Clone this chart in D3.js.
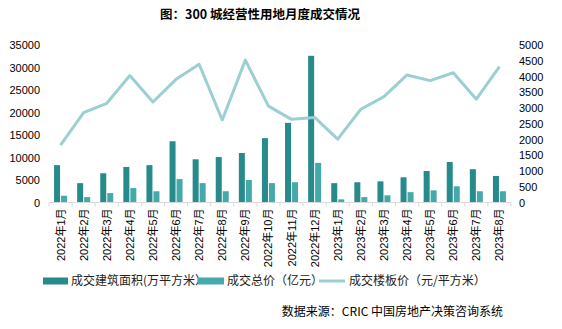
<!DOCTYPE html>
<html>
<head>
<meta charset="utf-8">
<script src="https://cdn.jsdelivr.net/npm/d3@7"></script>
<style>
  body { margin: 0; background: #fff; }
  svg { display: block; font-family: "Liberation Sans", "Noto Sans CJK SC", sans-serif; }
</style>
</head>
<body>
<svg width="562" height="329"></svg>
<script>
// Mois (catégories)
const months = [
  "2022年1月", "2022年2月", "2022年3月", "2022年4月", "2022年5月", "2022年6月",
  "2022年7月", "2022年8月", "2022年9月", "2022年10月", "2022年11月", "2022年12月",
  "2023年1月", "2023年2月", "2023年3月", "2023年4月", "2023年5月", "2023年6月",
  "2023年7月", "2023年8月"
];
// 成交建筑面积 (万平方米)
const area = [8300, 4300, 6500, 7900, 8300, 13600, 9600, 10100, 11000, 14300,
  17700, 32600, 4300, 4500, 4700, 5600, 7000, 9000, 7400, 5900];
// 成交总价 (亿元)
const total = [1500, 1200, 2100, 3200, 2500, 5200, 4300, 2500, 5000, 4300,
  4500, 8800, 700, 1200, 1600, 2300, 2700, 3600, 2500, 2500];
// 成交楼板价 (元/平方米) - axe de droite
const price = [1820, 2850, 3150, 4030, 3190, 3910, 4390, 2620, 4520, 3060,
  2640, 2700, 2010, 2960, 3360, 4050, 3870, 4120, 3280, 4310];

const leftTicks = [0, 5000, 10000, 15000, 20000, 25000, 30000, 35000];
const rightTicks = [0, 500, 1000, 1500, 2000, 2500, 3000, 3500, 4000, 4500, 5000];

const colArea = "#268b8a", colTotal = "#45a8a9", colPrice = "#9ccfd1";

/*----------- Dimensions -----------*/
const pLeft = 49, pRight = 511, pTop = 45, pBottom = 202.5;

const svg = d3.select("svg");

const x = d3.scaleBand().domain(months).range([pLeft, pRight]);
const yL = d3.scaleLinear().domain([0, 35000]).range([pBottom, pTop]);
const yR = d3.scaleLinear().domain([0, 5000]).range([pBottom, pTop]);

// titre
svg.append("text")
  .attr("x", 260).attr("y", 19)
  .attr("text-anchor", "middle")
  .attr("font-family", "'Noto Sans CJK SC', sans-serif")
  .attr("font-weight", "bold")
  .attr("font-size", 12.5)
  .attr("fill", "#000")
  .text("图：300 城经营性用地月度成交情况");

// axe gauche
const axL = svg.append("g")
  .attr("transform", "translate(" + pLeft + ",0)")
  .call(d3.axisLeft(yL).tickValues(leftTicks).tickFormat(d3.format("d")).tickSize(0).tickPadding(9));
axL.select(".domain").remove();
axL.selectAll("text").attr("font-size", 11).attr("fill", "#000");

// axe droit
const axR = svg.append("g")
  .attr("transform", "translate(" + pRight + ",0)")
  .call(d3.axisRight(yR).tickValues(rightTicks).tickFormat(d3.format("d")).tickSize(0).tickPadding(8));
axR.select(".domain").remove();
axR.selectAll("text").attr("font-size", 11).attr("fill", "#000");

// barres
const bw = 6, gap = 1;
svg.append("g").selectAll("rect")
  .data(area)
  .join("rect")
  .attr("x", (d, i) => x(months[i]) + x.bandwidth() / 2 - bw - gap / 2)
  .attr("y", (d) => yL(d))
  .attr("width", bw)
  .attr("height", (d) => pBottom - yL(d))
  .attr("fill", colArea);

svg.append("g").selectAll("rect")
  .data(total)
  .join("rect")
  .attr("x", (d, i) => x(months[i]) + x.bandwidth() / 2 + gap / 2)
  .attr("y", (d) => yL(d))
  .attr("width", bw)
  .attr("height", (d) => pBottom - yL(d))
  .attr("fill", colTotal);

// ligne
const line = d3.line()
  .x((d, i) => x(months[i]) + x.bandwidth() / 2)
  .y((d) => yR(d));
svg.append("path")
  .datum(price)
  .attr("fill", "none")
  .attr("stroke", colPrice)
  .attr("stroke-width", 3)
  .attr("stroke-linejoin", "round")
  .attr("d", line);

// axe x
const axX = svg.append("g")
  .attr("transform", "translate(0," + pBottom + ")");
axX.append("line")
  .attr("x1", pLeft).attr("x2", pRight)
  .attr("stroke", "#d9d9d9").attr("stroke-width", 1);
axX.selectAll("line.tk")
  .data(d3.range(months.length + 1))
  .join("line")
  .attr("class", "tk")
  .attr("x1", (i) => pLeft + i * x.step())
  .attr("x2", (i) => pLeft + i * x.step())
  .attr("y1", 0).attr("y2", 4)
  .attr("stroke", "#d9d9d9");
axX.selectAll("text")
  .data(months)
  .join("text")
  .attr("transform", (d) => "translate(" + (x(d) + x.bandwidth() / 2 + 4) + ",6) rotate(-90)")
  .attr("text-anchor", "end")
  .attr("font-size", 11)
  .attr("fill", "#000")
  .text((d) => d);

// légende
const legY = 281;
const leg = svg.append("g").attr("font-size", 12).attr("fill", "#222")
  .attr("font-family", "'Noto Sans CJK SC', sans-serif");
leg.append("rect").attr("x", 43).attr("y", legY - 3.5).attr("width", 25).attr("height", 7).attr("fill", colArea);
leg.append("text").attr("x", 71).attr("y", legY + 4).text("成交建筑面积(万平方米）");
leg.append("rect").attr("x", 198).attr("y", legY - 3.5).attr("width", 26).attr("height", 7).attr("fill", colTotal);
leg.append("text").attr("x", 227).attr("y", legY + 4).text("成交总价（亿元）");
leg.append("line").attr("x1", 319).attr("x2", 345).attr("y1", legY).attr("y2", legY)
  .attr("stroke", colPrice).attr("stroke-width", 3);
leg.append("text").attr("x", 349).attr("y", legY + 4).text("成交楼板价（元/平方米）");

// source
svg.append("text")
  .attr("x", 503).attr("y", 316)
  .attr("text-anchor", "end")
  .attr("font-size", 12)
  .attr("font-family", "'Noto Sans CJK SC', sans-serif")
  .attr("fill", "#000")
  .text("数据来源：CRIC 中国房地产决策咨询系统");
</script>
</body>
</html>
